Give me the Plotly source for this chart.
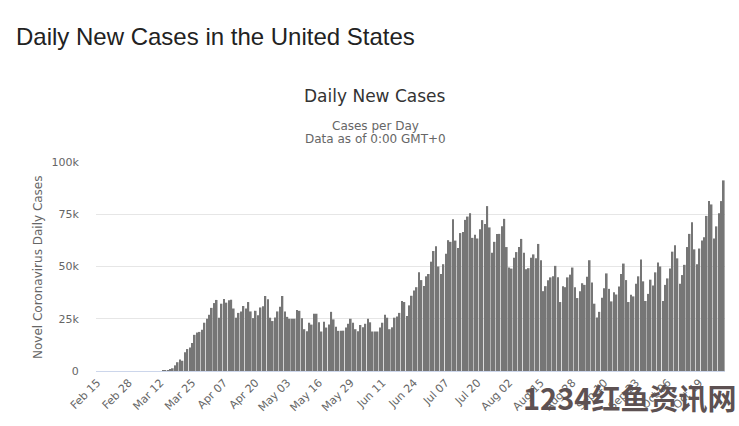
import pandas as pd
import plotly.graph_objects as go

# ---- data (thousands of cases per day) ----
start_date = "2020-02-15"

cases_feb = [0, 0, 0, 0, 0, 0, 0, 0, 0, 0, 0, 0, 0, 0, 0]           # Feb 15 - Feb 29
cases_mar_early = [0, 0, 0, 0, 0, 0, 0, 0, 0, 0,
                   0, 0, 0.1, 0.15]                                      # Mar 1 - Mar 14
cases_spring = [0.4, 0.6, 1.3, 2.7, 4.2, 5.5, 4.9, 9.0, 10.5, 11.3,
                13.4, 17.3, 18.4, 18.7, 19.7, 23.1, 25.0, 26.9, 30.2, 32.5,
                34.0, 25.5, 32.2, 34.4, 32.7, 33.8, 34.1, 29.9, 25.5, 27.8,
                28.5, 31.1, 29.9, 33.0, 28.5, 25.3, 28.8, 26.7, 30.4, 31.0,
                35.9, 34.3]                                              # Mar 15 - Apr 25
cases_may = [25.5, 23.9, 25.6, 28.5, 30.7, 35.9, 28.5, 25.9, 25.0, 25.0,
             25.0, 29.2, 28.8, 25.2, 20.0, 19.0, 23.1, 22.2, 27.4, 27.4,
             23.3, 18.9, 23.6, 20.8, 22.2, 28.3, 24.7, 21.2, 19.2, 19.3,
             19.3, 20.8, 22.6, 25.0, 23.1, 20.0, 19.0, 22.0, 20.9, 22.6,
             25.0, 23.3, 18.9, 18.9, 18.9, 20.8, 23.1, 26.9, 25.5, 20.0,
             20.9, 25.5, 26.1, 27.8]                                     # Apr 26 - Jun 18
cases_summer = [33.5, 33.0, 26.3, 31.4, 36.0, 38.5, 40.1, 47.2, 43.5, 40.7,
                45.3, 46.4, 52.3, 57.4, 59.7, 50.0, 46.4, 51.1, 56.1, 62.6,
                61.8, 72.6, 62.4, 58.9, 66.0, 66.5, 72.3, 73.9, 75.5, 63.7,
                65.2, 63.4, 67.8, 72.2, 70.3, 78.9, 68.7, 56.6, 61.8, 65.6,
                65.6, 69.2, 72.8, 59.3, 49.5, 49.0, 54.2, 56.9, 59.3, 63.2,
                56.6]                                                    # Jun 19 - Aug 8
cases_autumn = [48.7, 49.2, 54.2, 55.8, 53.9, 60.8, 53.0, 38.2, 40.6, 43.4,
                44.8, 45.3, 50.3, 44.8, 33.0, 40.6, 40.1, 44.8, 46.1, 49.5,
                40.1, 34.9, 38.2, 42.0, 41.2, 45.1, 53.0, 42.4, 32.2, 25.6,
                28.3, 35.1, 39.6, 46.7, 39.3, 33.3, 37.7, 36.6, 40.4, 46.4,
                51.4, 43.5, 33.0, 36.5, 35.7, 41.7, 45.3]                # Aug 9 - Sep 24
cases_oct = [53.4, 42.9, 33.5, 36.9, 43.7, 40.9, 47.2, 51.9, 50.0, 33.5,
             41.2, 44.3, 49.0, 57.1, 60.2, 53.9, 41.7, 45.9, 50.8, 59.3,
             65.6, 71.2, 58.2, 51.1, 58.6, 62.4, 64.0, 74.2, 81.3, 79.7,
             63.4, 69.2, 75.5, 81.3, 91.2]                               # Sep 25 - Oct 29

daily_thousands = (cases_feb + cases_mar_early + cases_spring + cases_may
                   + cases_summer + cases_autumn + cases_oct)
daily_cases = [v * 1000 for v in daily_thousands]

dates = pd.date_range(start_date, periods=len(daily_cases))
categories = [d.strftime("%b %d") for d in dates]

tick_labels = ["Feb 15", "Feb 28", "Mar 12", "Mar 25", "Apr 07", "Apr 20",
               "May 03", "May 16", "May 29", "Jun 11", "Jun 24", "Jul 07",
               "Jul 20", "Aug 02", "Aug 15", "Aug 28", "Sep 10", "Sep 23",
               "Oct 06", "Oct 19"]
y_ticks = [0, 25000, 50000, 75000, 100000]
y_tick_text = ["0", "25k", "50k", "75k", "100k"]

# ---- figure ----
W, H = 739, 426
L, R, T, B = 96, 14, 162, 51
ph = H - T - B
pw = W - L - R


def py(pixel_y):
    return (H - B - pixel_y) / ph


def px(pixel_x):
    return (pixel_x - L) / pw


fig = go.Figure(go.Bar(
    x=categories,
    y=daily_cases,
    marker=dict(color="#767676", line=dict(width=0)),
    hovertemplate="%{x}: %{y:,}<extra></extra>",
))

fig.update_layout(
    width=W, height=H,
    margin=dict(l=L, r=R, t=T, b=B, pad=0),
    paper_bgcolor="white",
    plot_bgcolor="white",
    bargap=0.32,
    showlegend=False,
    font=dict(family="DejaVu Sans", color="#666666", size=11),
)

fig.update_xaxes(
    type="category",
    tickmode="array",
    tickvals=tick_labels,
    ticktext=tick_labels,
    tickangle=-45,
    tickfont=dict(size=11, color="#666666", family="DejaVu Sans"),
    showgrid=False,
    showline=True,
    linecolor="#ccd6eb",
    linewidth=1,
    ticks="",
    range=[-0.5, len(daily_cases) - 0.5],
)

fig.update_yaxes(
    range=[0, 100000],
    tickmode="array",
    tickvals=y_ticks,
    ticktext=y_tick_text,
    tickfont=dict(size=11, color="#666666", family="DejaVu Sans"),
    showgrid=True,
    gridcolor="#e6e6e6",
    gridwidth=1,
    zeroline=False,
    ticks="outside",
    ticklen=14,
    tickcolor="rgba(0,0,0,0)",
    showline=False,
)

annotations = [
    dict(text="Daily New Cases in the United States", x=px(14), y=py(34),
         xanchor="left", yanchor="middle",
         font=dict(family="Liberation Sans", size=24, color="#222222")),
    dict(text="Daily New Cases", x=px(375), y=py(95),
         xanchor="center", yanchor="middle",
         font=dict(family="DejaVu Sans", size=17, color="#333333")),
    dict(text="Cases per Day", x=px(375), y=py(125),
         xanchor="center", yanchor="middle",
         font=dict(family="DejaVu Sans", size=12, color="#666666")),
    dict(text="Data as of 0:00 GMT+0", x=px(375), y=py(139),
         xanchor="center", yanchor="middle",
         font=dict(family="DejaVu Sans", size=12, color="#666666")),
    dict(text="Novel Coronavirus Daily Cases", x=px(38), y=py(270),
         xanchor="center", yanchor="middle", textangle=-90,
         font=dict(family="DejaVu Sans", size=12, color="#666666")),
    dict(text="<b>1234红鱼资讯网</b>", x=px(629), y=py(402),
         xanchor="center", yanchor="middle",
         font=dict(family="Noto Sans CJK SC", size=29, color="#5d5152")),
]
for a in annotations:
    a.update(xref="paper", yref="paper", showarrow=False)
fig.update_layout(annotations=annotations)

fig.write_html(
    "out.html",
    config={"displayModeBar": False},
    post_script="document.body.style.margin='0';document.body.style.overflow='hidden';",
)
